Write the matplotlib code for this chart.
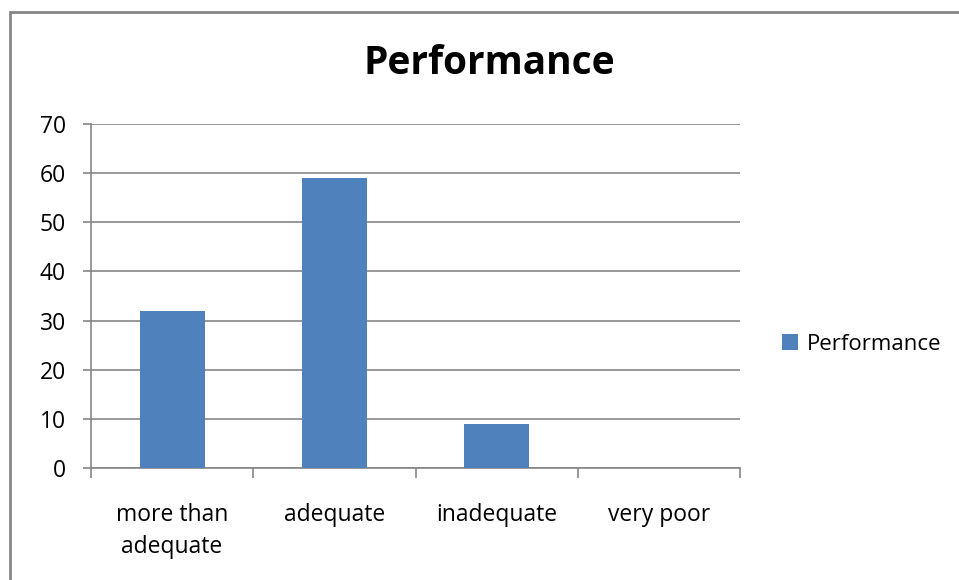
import matplotlib
matplotlib.use("Agg")
import matplotlib.pyplot as plt
from matplotlib.patches import Rectangle, Patch
import numpy as np

categories = ["more than\nadequate", "adequate", "inadequate", "very poor"]
performance = [32, 59, 9, 0]
y_ticks = [0, 10, 20, 30, 40, 50, 60, 70]

bar_color = "#4F81BD"
grid_color = "#868686"

plt.rcParams["font.family"] = ["Open Sans", "DejaVu Sans"]

fig = plt.figure(figsize=(9.59, 5.80), dpi=100)
ax = fig.add_axes([91 / 959, 1 - 468 / 580, (740 - 91) / 959, (468 - 124) / 580])

x = np.arange(len(categories))
ax.bar(x, performance, width=0.4, color=bar_color, zorder=3, label="Performance")

ax.set_xlim(-0.5, len(categories) - 0.5)
ax.set_ylim(0, 70)
ax.set_yticks(y_ticks)
ax.yaxis.grid(True, color=grid_color, linewidth=1.2, zorder=0)

for side in ("top", "right"):
    ax.spines[side].set_visible(False)
for side in ("left", "bottom"):
    ax.spines[side].set_color(grid_color)
    ax.spines[side].set_linewidth(1.2)

ax.tick_params(axis="y", length=6, width=1.2, color=grid_color, pad=12,
               labelsize=16.5, labelcolor="black")
ax.set_xticks(x)
ax.set_xticklabels(categories, fontsize=16.5, linespacing=1.45)
ax.tick_params(axis="x", which="major", length=0, pad=25)
ax.set_xticks(np.arange(len(categories) + 1) - 0.5, minor=True)
ax.tick_params(axis="x", which="minor", length=7, width=1.2, color=grid_color)

fig.text((362 + 616) / 2 / 959, 1 - 63 / 580, "Performance", ha="center", va="center",
         fontsize=28, fontweight="bold")

handle = Patch(facecolor=bar_color, edgecolor="none")
fig.legend([handle], ["Performance"], loc="center left",
           bbox_to_anchor=(762 / 959, 1 - 344 / 580), frameon=False,
           fontsize=16, handlelength=0.7, handleheight=0.7, handletextpad=0.4)

fig.patches.append(Rectangle((9.5 / 959, -0.1), 1.2, 1 - 11.5 / 580 + 0.1,
                             transform=fig.transFigure, fill=False,
                             edgecolor=grid_color, linewidth=2))

fig.savefig("out.png", dpi=100)
